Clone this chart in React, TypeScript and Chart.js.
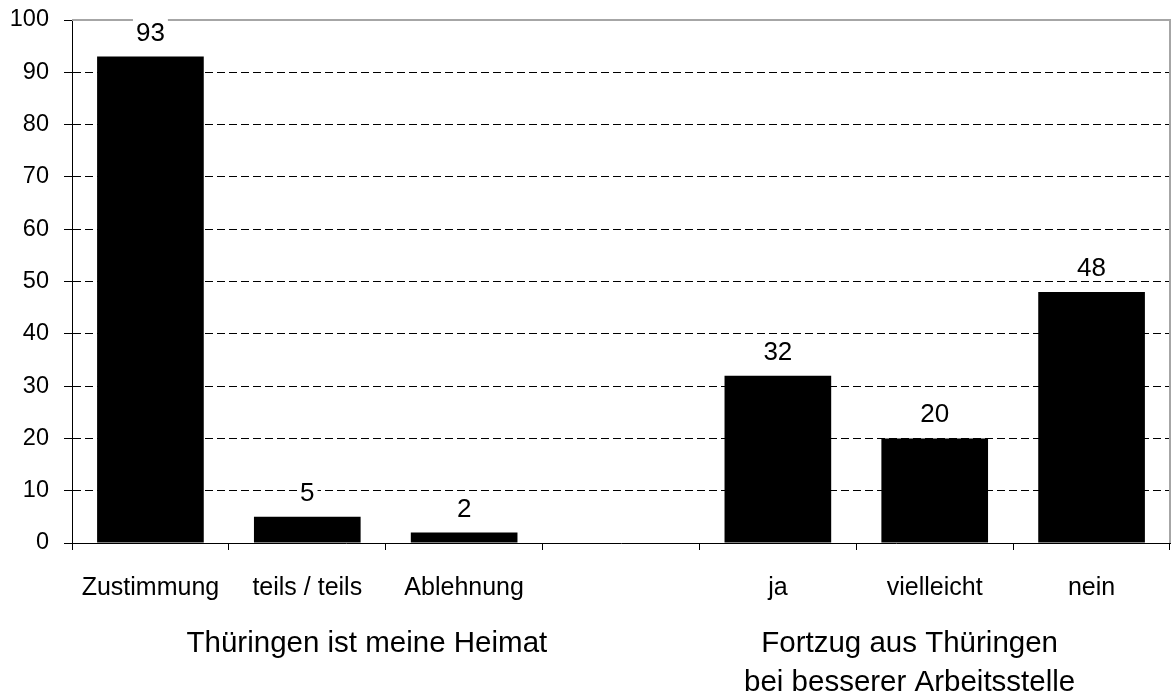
import React, { useEffect, useRef } from "react";
import { Chart, registerables } from "chart.js";

Chart.register(...registerables);

const categories = ["Zustimmung", "teils / teils", "Ablehnung", "", "ja", "vielleicht", "nein"];
const values: (number | null)[] = [93, 5, 2, null, 32, 20, 48];
const yTicks = [0, 10, 20, 30, 40, 50, 60, 70, 80, 90, 100];
const groupLabels: string[][] = [
  ["Thüringen ist meine Heimat"],
  ["Fortzug aus Thüringen", "bei besserer Arbeitsstelle"],
];
const groupCenters = [1.38, 4.84];

const FONT = "'Liberation Sans', Arial, sans-serif";

const decorPlugin = {
  id: "decor",
  afterDatasetsDraw(chart: any) {
    const { ctx, chartArea } = chart;
    const meta = chart.getDatasetMeta(0);
    ctx.save();
    // frame top/right in gray
    ctx.strokeStyle = "#a6a6a6";
    ctx.lineWidth = 2;
    ctx.beginPath();
    ctx.moveTo(chartArea.left, chartArea.top);
    ctx.lineTo(chartArea.right, chartArea.top);
    ctx.lineTo(chartArea.right, chartArea.bottom);
    ctx.stroke();
    // value labels
    ctx.font = `26px ${FONT}`;
    ctx.textAlign = "center";
    ctx.textBaseline = "alphabetic";
    meta.data.forEach((bar: any, i: number) => {
      const v = values[i];
      if (v === null || v === undefined) return;
      const txt = String(v);
      const w = ctx.measureText(txt).width;
      const base = bar.y - 16;
      ctx.fillStyle = "#ffffff";
      ctx.fillRect(bar.x - w / 2 - 3, base - 22, w + 6, 25);
      ctx.fillStyle = "#000000";
      ctx.fillText(txt, bar.x, base);
    });
    ctx.restore();
  },
  afterDraw(chart: any) {
    const { ctx } = chart;
    const xs = chart.scales.x;
    ctx.save();
    ctx.font = `29.5px ${FONT}`;
    ctx.fillStyle = "#000000";
    ctx.textAlign = "center";
    ctx.textBaseline = "alphabetic";
    groupLabels.forEach((lines, gi) => {
      const cx = xs.getPixelForValue(groupCenters[gi]);
      lines.forEach((line, li) => {
        ctx.fillText(line, cx, xs.top + 109 + li * 39);
      });
    });
    ctx.restore();
  },
};

export default function App() {
  const ref = useRef<HTMLCanvasElement | null>(null);
  useEffect(() => {
    document.body.style.margin = "0";
    const canvas = ref.current;
    if (!canvas) return;
    const chart = new Chart(canvas, {
      type: "bar",
      data: {
        labels: categories,
        datasets: [
          {
            data: values,
            backgroundColor: "#000000",
            borderWidth: 0,
            barPercentage: 0.68,
            categoryPercentage: 1,
          },
        ],
      },
      plugins: [decorPlugin],
      options: {
        responsive: false,
        animation: false,
        layout: { padding: { top: 20, right: 5, left: 0, bottom: 0 } },
        plugins: {
          legend: { display: false },
          tooltip: { enabled: false },
        },
        scales: {
          x: {
            offset: true,
            grid: {
              offset: true,
              drawOnChartArea: false,
              drawTicks: true,
              tickLength: 7,
              tickColor: "#000000",
              color: "#000000",
            },
            border: { display: true, color: "#000000", width: 1 },
            ticks: {
              color: "#000000",
              font: { family: FONT, size: 25 },
              padding: 23,
              maxRotation: 0,
              autoSkip: false,
            },
            afterFit(scale: any) {
              scale.height = 152;
              scale.paddingLeft = 0;
              scale.paddingRight = 0;
            },
          },
          y: {
            min: 0,
            max: 100,
            afterBuildTicks(scale: any) {
              scale.ticks = yTicks.map((v) => ({ value: v }));
            },
            grid: {
              color: (c: any) =>
                c.tick && (c.tick.value === 0 || c.tick.value === 100) ? "rgba(0,0,0,0)" : "#000000",
              tickColor: "#000000",
              tickLength: 8,
              lineWidth: 1,
            },
            border: { display: true, color: "#000000", width: 1, dash: [8, 4] },
            ticks: {
              color: "#000000",
              font: { family: FONT, size: 23.5 },
              padding: 15,
            },
            afterFit(scale: any) {
              scale.width = 72;
              scale.paddingTop = 0;
              scale.paddingBottom = 0;
            },
          },
        },
      },
    });
    return () => chart.destroy();
  }, []);
  return (
    <div style={{ width: 1175, height: 695, background: "#fff" }}>
      <canvas ref={ref} width={1175} height={695} style={{ display: "block" }} />
    </div>
  );
}
